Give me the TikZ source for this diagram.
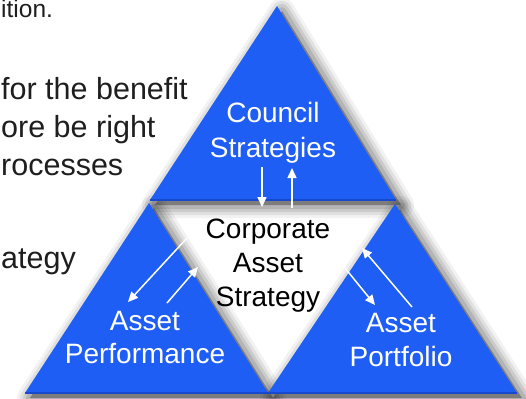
\documentclass[tikz,border=0pt]{standalone}
\usepackage{fontspec}
\setmainfont{Liberation Sans}
\usetikzlibrary{arrows.meta}
\definecolor{triblue}{RGB}{30,94,245}
\definecolor{edgeblue}{RGB}{24,72,205}
\definecolor{bodytext}{RGB}{30,30,30}
\tikzset{
  tri/.style={fill=triblue},
  baseedge/.style={draw=edgeblue,line width=1.6pt},
  inlabel/.style={text=white,font=\fontsize{28}{34}\selectfont,anchor=base,inner sep=0pt},
  midlabel/.style={inlabel,text=black},
  sidetext/.style={text=bodytext,font=\fontsize{30.5}{37}\selectfont,anchor=base west,inner sep=0pt},
  flow/.style={draw=white,line width=1.5pt,-{Triangle[length=10pt,width=9pt]}},
}
\begin{document}
\begin{tikzpicture}[x=1pt,y=-1pt]
\useasboundingbox (0,0) rectangle (526,398);
\fill[white] (0,0) rectangle (526,398);

% triangle corners
\coordinate (t1) at (277,6);
\coordinate (t2) at (150,200);
\coordinate (t3) at (396,200);
\coordinate (l1) at (149,203);
\coordinate (l2) at (25,393);
\coordinate (l3) at (268,393);
\coordinate (r1) at (395,204);
\coordinate (r2) at (268,393);
\coordinate (r3) at (517,393);

% side text
\node[sidetext,font=\fontsize{24.5}{30}\selectfont] (s0) at (1,18) {ition.};
\node[sidetext] (s1) at (1,100) {for the benefit};
\node[sidetext] (s2) at (1,137) {ore be right};
\node[sidetext] (s3) at (1,175) {rocesses};
\node[sidetext] (s4) at (1,268) {ategy};

% soft shadows
\begin{scope}
\clip (0,0) rectangle (526,398);
\foreach \a/\b/\c in {t1/t2/t3,l1/l2/l3,r1/r2/r3}{
  \foreach \w/\o in {26/0.05,20/0.07,14/0.09,8/0.11}{
    \draw[black,draw opacity=\o,line width=\w pt,line join=round]
      ([shift={(5,5)}]\a)--([shift={(5,5)}]\b)--([shift={(5,5)}]\c)--cycle;
  }
  \fill[black,opacity=0.3]
      ([shift={(5,5)}]\a)--([shift={(5,5)}]\b)--([shift={(5,5)}]\c)--cycle;
}
\end{scope}

% triangles
\fill[tri] (t1)--(t2)--(t3)--cycle;
\fill[tri] (l1)--(l2)--(l3)--cycle;
\fill[tri] (r1)--(r2)--(r3)--cycle;
\draw[baseedge] (t2)--(t3);
\draw[baseedge] (l2)--(l3);
\draw[baseedge] (r2)--(r3);

% labels
\node[inlabel] (cs1) at (273,123) {Council};
\node[inlabel] (cs2) at (273,157) {Strategies};
\node[midlabel] (ca1) at (268,238) {Corporate};
\node[midlabel] (ca2) at (268,272) {Asset};
\node[midlabel] (ca3) at (268,306) {Strategy};
\node[inlabel] (ap1) at (145,330) {Asset};
\node[inlabel] (ap2) at (145,363) {Performance};
\node[inlabel] (ao1) at (401,332) {Asset};
\node[inlabel] (ao2) at (401,366) {Portfolio};

% arrow end points
\coordinate (a1s) at (262,167); \coordinate (a1e) at (262,207);
\coordinate (a2s) at (292,208); \coordinate (a2e) at (292,168);
\coordinate (a3s) at (187,238); \coordinate (a3e) at (128,302);
\coordinate (a4s) at (167,303); \coordinate (a4e) at (198,267);
\coordinate (a5s) at (412,307); \coordinate (a5e) at (362,248);
\coordinate (a6s) at (345,268); \coordinate (a6e) at (375,305);

\draw[flow] (a1s) -- (a1e);
\draw[flow] (a2s) -- (a2e);
\draw[flow] (a3s) -- (a3e);
\draw[flow] (a4s) -- (a4e);
\draw[flow] (a5s) -- (a5e);
\draw[flow] (a6s) -- (a6e);
\end{tikzpicture}
\end{document}
